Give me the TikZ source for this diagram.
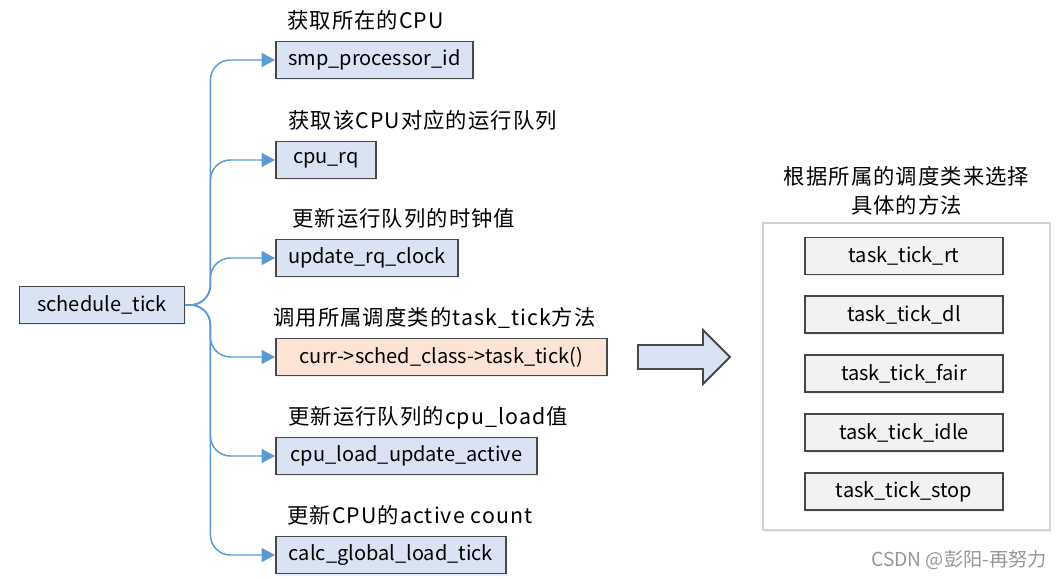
\documentclass[tikz,border=0pt]{standalone}
\usepackage{fontspec}
\setmainfont{Noto Sans CJK SC}
\newfontfamily\notefont{Noto Sans CJK SC}[LetterSpace=5]
\usepackage{tikz}
\usetikzlibrary{arrows.meta,positioning,shadows,calc}
\definecolor{cBox}{RGB}{218,227,243}
\definecolor{cCall}{RGB}{251,228,213}
\definecolor{cMeth}{RGB}{242,242,242}
\definecolor{cEdge}{RGB}{72,72,72}
\definecolor{cLink}{RGB}{91,155,213}
\definecolor{cFrame}{RGB}{208,212,220}
\definecolor{cMark}{RGB}{150,150,150}

\begin{document}
\begin{tikzpicture}[x=0.75pt,y=-0.75pt,
  func/.style={draw=cEdge,line width=1.4pt,fill=cBox,minimum height=27.75pt,inner sep=0pt,
    font=\fontsize{15}{17}\selectfont,
    drop shadow={shadow xshift=1pt,shadow yshift=-1.5pt,fill=cLink!50,opacity=0.3}},
  meth/.style={func,fill=cMeth,minimum width=148.5pt},
  note/.style={inner sep=0pt,font=\notefont\fontsize{16}{21.75}\selectfont},
  link/.style={cLink,line width=1.1pt,rounded corners=15pt,-{Triangle[length=10pt,width=10.5pt]}}]
  \useasboundingbox (0,0) rectangle (1060,580);

  % caller
  \node[func,minimum width=123.75pt] (st) at (102,305) {schedule\_tick};

  % callees, one per line
  \node[func,anchor=west,minimum width=147.75pt] (smp) at (275,60) {smp\_processor\_id};
  \node[func,anchor=west,minimum width=75pt] (rq) at (275,160) {cpu\_rq};
  \node[func,anchor=west,minimum width=136.5pt] (clk) at (275,258) {update\_rq\_clock};
  \node[func,anchor=west,minimum width=248.25pt,fill=cCall] (tick) at (275,357) {curr->sched\_class->task\_tick()};
  \node[func,anchor=west,minimum width=195.75pt] (load) at (275,456) {cpu\_load\_update\_active};
  \node[func,anchor=west,minimum width=172.5pt] (glob) at (275,555) {calc\_global\_load\_tick};

  \node[note,anchor=base west] (smpL) at ($(smp.north west)+(12,-12)$) {获取所在的CPU};
  \node[note,anchor=base west] (rqL) at ($(rq.north west)+(13,-12)$) {获取该CPU对应的运行队列};
  \node[note,anchor=base west] (clkL) at ($(clk.north west)+(17,-12)$) {更新运行队列的时钟值};
  \node[note,anchor=base west] (tickL) at ($(tick.north west)+(-2,-12)$) {调用所属调度类的task\_tick方法};
  \node[note,anchor=base west] (loadL) at ($(load.north west)+(13,-12)$) {更新运行队列的cpu\_load值};
  \node[note,anchor=base west] (globL) at ($(glob.north west)+(12,-12)$) {更新CPU的active count};

  \foreach \b in {smp,rq,clk,tick,load,glob}
    \draw[link] (st.east) -- ++(25,0) |- (\b.west);

  % fat arrow
  \draw[cEdge,fill=cBox,line width=1.4pt] (638,345) -- (703,345) -- (703,330) -- (730,357)
    -- (703,384) -- (703,369) -- (638,369) -- cycle;

  % per-class methods
  \node[draw=cFrame,line width=0.8pt,fill=white,minimum width=215.25pt,minimum height=230.25pt,
    drop shadow={shadow xshift=1pt,shadow yshift=-1.5pt,fill=cLink!50,opacity=0.3}] (grp) at (906.5,376.5) {};
  \node[note,align=center,above=5pt of grp] (grpT) {根据所属的调度类来选择\\具体的方法};
  \node[meth] (rt) at (904,256) {task\_tick\_rt};
  \node[meth,below=15pt of rt] (dl) {task\_tick\_dl};
  \node[meth,below=15pt of dl] (fair) {task\_tick\_fair};
  \node[meth,below=15pt of fair] (idle) {task\_tick\_idle};
  \node[meth,below=15pt of idle] (stop) {task\_tick\_stop};

  \node[anchor=east,inner sep=0pt,text=cMark,font=\fontsize{14.4}{16}\selectfont] (wm) at (1047,560) {CSDN @彭阳-再努力};
\end{tikzpicture}
\end{document}
